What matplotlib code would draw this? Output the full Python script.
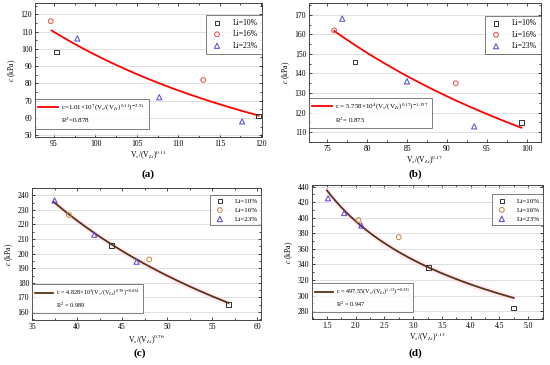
import numpy as np
import matplotlib.pyplot as plt
from matplotlib.ticker import AutoMinorLocator, MultipleLocator
from matplotlib.lines import Line2D

plt.rcParams['font.family'] = ['Liberation Serif', 'DejaVu Serif']
plt.rcParams['mathtext.fontset'] = 'stix'
plt.rcParams['font.size'] = 6

W, H = 550, 365

# measured points, per panel: (x, c) for Li=10%, 16%, 23%
a_x10, a_y10 = [95.3, 119.7], [98.3, 61.0]
a_x16, a_y16 = [94.6, 113.0], [116.0, 82.0]
a_x23, a_y23 = [97.8, 107.7, 117.7], [106.0, 72.0, 58.0]

b_x10, b_y10 = [78.5, 99.3], [146.0, 115.0]
b_x16, b_y16 = [75.9, 91.1], [162.0, 135.0]
b_x23, b_y23 = [76.9, 85.0, 93.4], [168.0, 136.0, 113.0]

c_x10, c_y10 = [43.8, 56.8], [205.5, 165.0]
c_x16, c_y16 = [39.1, 48.0], [226.5, 196.0]
c_x23, c_y23 = [37.5, 41.9, 46.6], [236.5, 213.0, 194.5]

d_x10, d_y10 = [3.27, 4.75], [336.0, 284.0]
d_x16, d_y16 = [2.05, 2.75], [397.0, 375.0]
d_x23, d_y23 = [1.52, 1.80, 2.10], [425.0, 406.0, 390.0]

# power-law fits c = A * x^b, with curve x range
fit_A = [1.01e7, 5.758e4, 4.828e3, 497.55]
fit_b = [-2.51, -1.357, -0.834, -0.331]
fit_range = [(94.7, 119.7), (75.9, 99.3), (37.4, 56.8), (1.5, 4.75)]
fit_r2 = ['R$^2$=0.878', 'R$^2$= 0.875', 'R$^2$ = 0.989', 'R$^2$ = 0.947']
fit_txt = [r'c=1.01×10$^7$(V$_s$/(V$_{Li}$)$^{0.11}$)$^{-2.51}$',
           r'c = 5.758×10$^4$(V$_s$/(V$_{Li}$)$^{0.17}$)$^{-1.357}$',
           r'c = 4.828×10$^3$(V$_s$/(V$_{Li}$)$^{0.76}$)$^{-0.834}$',
           r'c = 497.55(V$_s$/(V$_{Li}$)$^{1.13}$)$^{-0.331}$']
xlabels = [r'V$_s$/(V$_{Li}$)$^{0.11}$', r'V$_s$/(V$_{Li}$)$^{0.17}$',
           r'V$_s$/(V$_{Li}$)$^{0.76}$', r'V$_s$/(V$_{Li}$)$^{1.13}$']
tags = ['(a)', '(b)', '(c)', '(d)']

# pixel boxes (left, right, top, bottom)
boxes = [(35, 262, 3, 137), (309, 541, 3, 142), (32, 261, 188, 320), (312, 543, 185, 319)]
xlims = [(92.7, 120.1), (72.75, 101.75), (35, 60.4), (1.24, 5.26)]
ylims = [(49.0, 126.5), (105, 176), (154.5, 245), (270, 442)]
xsteps = [5, 5, 5, 0.5]
ysteps = [10, 10, 10, 20]
tagpos = [(148, 174), (415, 174), (140, 353), (415, 353)]
# legend placement: marker legend top (axes frac), fit legend bottom (axes frac)
leg_top = [0.91, 0.91, 0.95, 0.93]
fit_bot = [0.06, 0.10, 0.05, 0.05]
leg_fs = [5.5, 5.5, 5.0, 5.0]
fit_fs = [5.0, 5.0, 4.5, 4.5]

data = [(a_x10, a_y10, a_x16, a_y16, a_x23, a_y23),
        (b_x10, b_y10, b_x16, b_y16, b_x23, b_y23),
        (c_x10, c_y10, c_x16, c_y16, c_x23, c_y23),
        (d_x10, d_y10, d_x16, d_y16, d_x23, d_y23)]

fig = plt.figure(figsize=(5.5, 3.65), dpi=100)

for i in range(4):
    l, r, t, b = boxes[i]
    ax = fig.add_axes([l / W, (H - b) / H, (r - l) / W, (b - t) / H])
    x10, y10, x16, y16, x23, y23 = data[i]
    if i < 2:
        c16, c23, cfit = '#ee4a4a', '#4a4ad8', '#ff0000'
    else:
        c16, c23, cfit = '#c08a3a', '#5a3ad8', '#5c3310'

    xs = np.linspace(fit_range[i][0], fit_range[i][1], 200)
    ys = fit_A[i] * xs ** fit_b[i]
    if i >= 2:
        band = 0.025 * (ylims[i][1] - ylims[i][0])
        ax.fill_between(xs, ys - band, ys + band, color='#ffd6ee', alpha=0.5, lw=0, zorder=1)
    fl, = ax.plot(xs, ys, color=cfit, lw=1.3, zorder=2)

    s1 = ax.scatter(x10, y10, marker='s', s=10, facecolors='none', edgecolors='#333333', lw=0.7, zorder=3)
    s2 = ax.scatter(x16, y16, marker='o', s=12, facecolors='none', edgecolors=c16, lw=0.7, zorder=3)
    s3 = ax.scatter(x23, y23, marker='^', s=14, facecolors='none', edgecolors=c23, lw=0.7, zorder=3)

    ax.set_xlim(xlims[i])
    ax.set_ylim(ylims[i])
    ax.xaxis.set_major_locator(MultipleLocator(xsteps[i]))
    ax.yaxis.set_major_locator(MultipleLocator(ysteps[i]))
    ax.xaxis.set_minor_locator(AutoMinorLocator(2))
    ax.yaxis.set_minor_locator(AutoMinorLocator(2))
    ax.tick_params(which='both', direction='in', top=True, right=True, labelsize=5.5, pad=2)
    ax.tick_params(which='major', length=2.5, width=0.5)
    ax.tick_params(which='minor', length=1.5, width=0.5)
    ax.grid(axis='y', color='#d9d9d9', lw=0.6)
    ax.set_axisbelow(True)
    for sp in ax.spines.values():
        sp.set_linewidth(0.7)
        sp.set_color('#444444')
    if i == 3:
        ax.xaxis.set_major_formatter(plt.FormatStrFormatter('%.1f'))

    ax.set_xlabel(xlabels[i], fontsize=5.5, labelpad=1)
    ax.set_ylabel(r'$c$ (kPa)', fontsize=5.5, labelpad=2)

    leg1 = ax.legend([s1, s2, s3], ['Li=10%', 'Li=16%', 'Li=23%'], loc='upper right',
                     bbox_to_anchor=(1.0, leg_top[i]), fontsize=leg_fs[i], frameon=True,
                     fancybox=False, edgecolor='#444444', handlelength=1.8, handletextpad=1.2,
                     borderpad=0.5, labelspacing=0.45, borderaxespad=0)
    leg1.get_frame().set_linewidth(0.6)
    ax.add_artist(leg1)

    blank = Line2D([], [], color='none')
    leg2 = ax.legend([fl, blank], [fit_txt[i], fit_r2[i]],
                     loc='lower left', bbox_to_anchor=(0.0, fit_bot[i]), fontsize=fit_fs[i],
                     frameon=True, fancybox=False, edgecolor='#444444', handlelength=2.8,
                     handletextpad=0.5, borderpad=0.5, labelspacing=0.4, borderaxespad=0)
    leg2.get_frame().set_linewidth(0.6)

    fig.text(tagpos[i][0] / W, 1 - tagpos[i][1] / H, tags[i], ha='center', va='center',
             fontsize=8, fontweight='bold')

fig.savefig('out.png', dpi=100)
